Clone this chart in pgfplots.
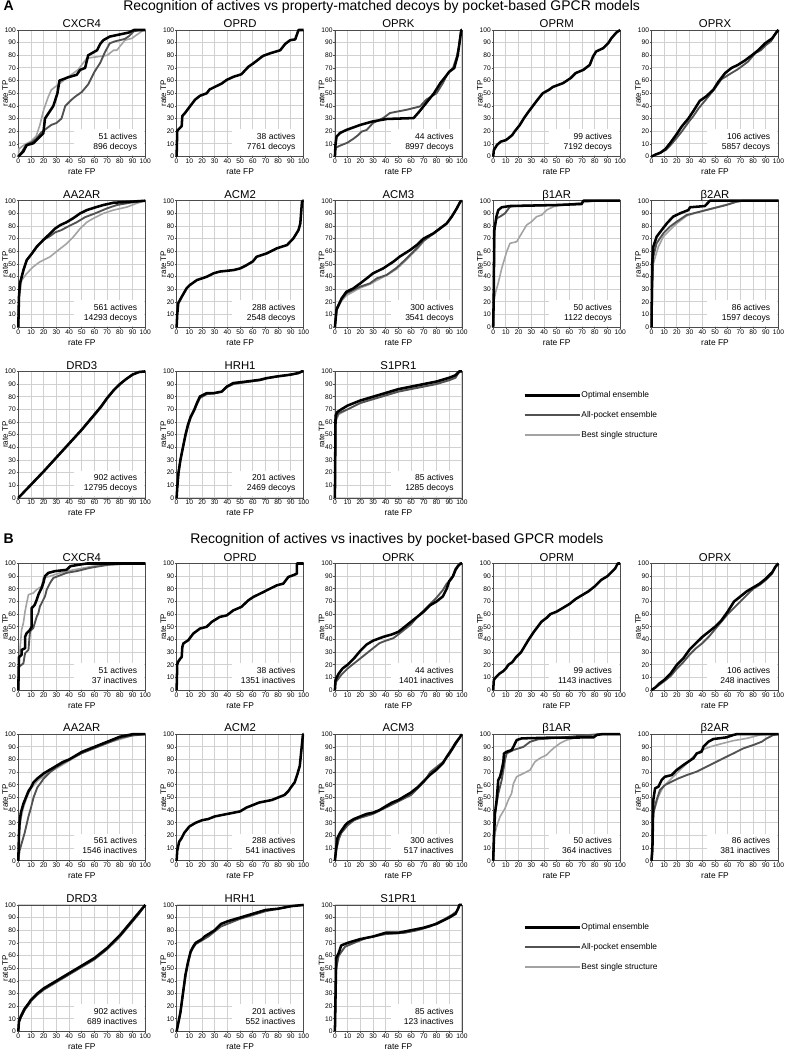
\documentclass[border=0pt]{standalone}
\usepackage{fontspec}
\setmainfont{Liberation Sans}
\usepackage{pgfplots}
\pgfplotsset{compat=1.18}
\pgfplotsset{
  bk/.style={black, line width=1.9pt, line join=round},
  dg/.style={black!68, line width=1.4pt, line join=round},
  lg/.style={black!36, line width=1.2pt, line join=round},
  roc/.style={
    scale only axis, width=95.25pt, height=94.9pt,
    xmin=0,xmax=100,ymin=0,ymax=100,
    xtick={0,10,...,100}, ytick={0,10,...,100},
    grid=major, major grid style={draw=black!18, line width=0.7pt},
    axis line style={draw=black!70, line width=0.6pt},
    tick align=outside, tick pos=left, major tick length=1.2pt,
    every tick/.style={draw=black!70, line width=0.5pt},
    /pgf/number format/assume math mode=true,
    tick label style={font=\fontsize{5}{5}\selectfont, inner sep=0.4pt},
    xlabel={rate FP}, ylabel={rate TP},
    xlabel style={font=\fontsize{6.3}{7}\selectfont, at={(axis description cs:0.5,0)}, anchor=base, yshift=-13.5pt, inner sep=0pt},
    ylabel style={font=\fontsize{6}{7}\selectfont, at={([xshift=-7.9pt]axis description cs:0,0.5)}, anchor=base, inner sep=0pt},
    every axis title shift=0pt,
    title style={font=\fontsize{8.5}{9}\selectfont, at={(axis description cs:0.5,1)}, anchor=base, yshift=1.7pt, inner sep=0pt},
    clip=false, anchor=north west,
  },
  leg/.style={
    legend style={draw=none, fill=none, at={(axis description cs:1.481,#1)}, anchor=north west, yshift=21.75pt,
      font=\fontsize{6.3}{7}\selectfont, row sep=7.5pt, inner sep=0pt,
      nodes={inner sep=0.5pt, text height=5pt, text depth=1.5pt}},
    legend cell align=left,
    legend image code/.code={\draw[##1] (0pt,0pt) -- (41.25pt,0pt);},
  },
}
\newcommand{\ann}[2]{%
  \fill[white] (axis cs:44,1.2) rectangle (axis cs:99.2,21.5);
  \node[anchor=base east,inner sep=0pt,font=\fontsize{6.4}{7}\selectfont] at (axis cs:93.7,13.4) {#1};
  \node[anchor=base east,inner sep=0pt,font=\fontsize{6.4}{7}\selectfont] at (axis cs:93.7,5.5) {#2};}
\begin{document}
\begin{tikzpicture}
\useasboundingbox (0,0) rectangle (589.5pt,-787.5pt);
% ---------------- Section A ----------------
\node[anchor=base west, font=\bfseries\fontsize{10.5}{11}\selectfont, inner sep=0pt] at (2.5pt,-7.9pt) {A};
\node[anchor=base west, font=\fontsize{10.5}{11}\selectfont, inner sep=0pt] at (92.25pt,-7.9pt) {Recognition of actives vs property-matched decoys by pocket-based GPCR models};

\begin{axis}[roc, at={(13.73pt,-22.5pt)}, title={CXCR4}]
\addplot[lg] coordinates {(0,0)(0.5,6)(3,8)(6,10)(10,12)(14,16)(17,25)(20,37)(23.7,47.5)(26,52.7)(29,55)(33,58)(38,62)(47,68.5)(54,77.7)(63,79)(70,80)(75,84)(77.6,84)(84,92)(89.5,93.4)(93,96)(98.7,100)(100,100)};
\addplot[dg] coordinates {(0,0)(3,4)(6,9)(10,11)(14,14)(18,19)(22,22)(26,25)(30,26.5)(34,30)(37,40)(42,45)(45,47.5)(50,51)(55,57)(60,67)(64.5,74)(68,82)(72,89.5)(76,91)(84,93)(87,95)(91,99)(96,100)(100,100)};
\addplot[bk] coordinates {(0,0)(4,4)(6.6,9)(11.8,10.5)(15.8,14.5)(19.7,18.4)(21,30)(27.6,40)(30.8,50)(32.4,60)(39.5,62.7)(46,64.6)(48.7,68.5)(52.6,70)(55,80)(62,84)(64.5,89)(67,92)(72,94.8)(87,98)(91,100)(100,100)};
\ann{51 actives}{896 decoys}
\end{axis}

\begin{axis}[roc, at={(132.45pt,-22.5pt)}, title={OPRD}]
\addplot[bk] coordinates {(0,0)(0.5,20)(1,21)(2.6,22.6)(4,24)(4.5,32)(6.6,34.4)(10.5,39.6)(14.5,44.9)(18.4,48)(23.7,50)(26,53)(35.5,57.7)(39.5,60.6)(44.7,63)(51,65)(56.6,71)(60.5,73.7)(68,79.5)(73.7,81.6)(81.6,84)(85.5,89)(89.5,92)(93.4,92.6)(96,100)(100,100)};
\ann{38 actives}{7761 decoys}
\end{axis}

\begin{axis}[roc, at={(251.18pt,-22.5pt)}, title={OPRK}]
\addplot[dg] coordinates {(0,0)(0.5,7)(5,9)(10,11)(14.5,14)(18.4,17)(21,19.7)(25,21)(30,26.5)(38,30.4)(43.4,34.4)(56.6,37)(67,39.6)(72,45)(80,50)(85,58)(89,66)(93,70)(96,79)(97.6,87)(99,97)(99.5,100)(100,100)};
\addplot[bk] coordinates {(0,0)(0.5,10)(1.3,15.7)(4,18.6)(9,21)(20,25)(30,27.8)(41,29.7)(50,30)(62,30.4)(66,35)(70,40)(78,50)(83,58)(87,63)(90,67)(94,70)(96.7,80)(98,89)(99.5,100)(100,100)};
\ann{44 actives}{8997 decoys}
\end{axis}

\begin{axis}[roc, at={(369.9pt,-22.5pt)}, title={OPRM}]
\addplot[bk] coordinates {(0,0)(0.5,5)(3,9.2)(6,11.8)(10,13)(12,14.5)(15,17)(17,20)(21,25)(24,30)(28,35.7)(35,45)(39,50)(44,52.8)(47,55)(55,58)(61,62)(65,66)(71,68.5)(76,72.4)(78.6,79)(81,83)(86.5,85.6)(90.5,89.5)(93,93.4)(97,98)(100,100)};
\ann{99 actives}{7192 decoys}
\end{axis}

\begin{axis}[roc, at={(488.63pt,-22.5pt)}, title={OPRX}]
\addplot[dg] coordinates {(0,0)(3,1.5)(7,3)(11,5)(15,9)(20,15)(24,20)(29,27)(33,32)(37,38)(42,44)(46,49)(50,54)(55,61)(63,66)(68,69)(76,75)(81.6,81.6)(86,84)(90,88)(94,91)(97,96)(100,100)};
\addplot[bk] coordinates {(0,0)(3,1.5)(7,3)(11,6)(15,11)(20,18)(24,24)(29,30)(33,36)(38,44)(43,47.5)(48.7,52.8)(52.6,59)(58,66)(63,70)(68,72.4)(73.7,76)(79,80)(84,84)(89.5,89.5)(95,93.4)(98.7,98.7)(100,100)};
\ann{106 actives}{5857 decoys}
\end{axis}

\begin{axis}[roc, at={(13.73pt,-150.53pt)}, title={AA2AR}]
\addplot[lg] coordinates {(0,0)(0.8,24)(2.6,37)(6.6,42.5)(11.8,47.8)(17,51.7)(25,55.7)(31.6,61)(38,66)(43.4,71.5)(48.7,78)(54,83)(59,86)(67,90)(75,92.6)(85.5,95)(93.4,98)(100,100)};
\addplot[dg] coordinates {(0,0)(0.5,24)(1.3,34.6)(4,45)(6.6,53)(10.5,58)(14.5,63.6)(19.7,69)(25,72)(29,75)(34,76.8)(38,79)(46,83)(52.6,87)(60.5,90)(70,94)(77.6,96.6)(88,98.4)(100,100)};
\addplot[bk] coordinates {(0,0)(0.5,24)(1.3,34.6)(4,45)(6.6,53)(10.5,58)(14.5,63.6)(19.7,69)(25,74)(29,78)(33,80.7)(38,83)(43,86)(48.7,90)(54,92.6)(60.5,94.7)(67,96.6)(75,98.4)(85.5,99)(100,100)};
\ann{561 actives}{14293 decoys}
\end{axis}

\begin{axis}[roc, at={(132.45pt,-150.53pt)}, title={ACM2}]
\addplot[bk] coordinates {(0,0)(0.5,10)(1.3,19)(4,24)(8,31)(10.5,33.4)(16,37.3)(24,40)(29,42.6)(34,44)(45,45.2)(50,46.5)(55,49)(60,52)(63,55.7)(71,58.4)(79,62.4)(87,65)(92,70.3)(96,76.8)(97.4,82)(98.7,99)(99.5,100)(100,100)};
\ann{288 actives}{2548 decoys}
\end{axis}

\begin{axis}[roc, at={(251.18pt,-150.53pt)}, title={ACM3}]
\addplot[lg] coordinates {(0,0)(1.3,13)(5.3,21)(9,25)(19.7,31)(27.6,34)(32.9,37)(40.7,41)(48.6,46)(55,52)(60,57)(65,62)(70,68)(77.6,74)(83,78)(88,82.5)(92,87.4)(96,94)(98.7,99.2)(100,100)};
\addplot[dg] coordinates {(0,0)(1.3,15)(5.3,22)(9,26.7)(19.7,32)(27.6,34.7)(32.9,38.6)(40.7,41.3)(48.6,47)(55,53)(60,58)(65,63)(70,68.5)(77.6,74)(83,78)(88,82)(92,87.4)(96,94)(98.7,99.2)(100,100)};
\addplot[bk] coordinates {(0,0)(1.3,14)(5.3,22.8)(9,28)(14.5,30.7)(20,34.7)(25,38.6)(30,42.6)(38,46.5)(46,51.8)(51.3,56)(59.2,61)(64.5,65)(69.7,70)(77.6,74.2)(82.9,78.2)(88,82)(92,87.4)(96,94)(98.7,99.2)(100,100)};
\ann{300 actives}{3541 decoys}
\end{axis}

\begin{axis}[roc, at={(369.9pt,-150.53pt)}, title={β1AR}]
\addplot[lg] coordinates {(0,0)(0.5,20)(2,28)(4,35)(6.7,46.5)(10.6,59.7)(13.2,66.3)(18.5,67.6)(22.4,74.2)(26.3,80.8)(30.2,83.4)(34.2,87.4)(38.2,88.7)(42,92.6)(47.4,95.3)(55,96.6)(65.7,98)(76,99.2)(81.5,100)(100,100)};
\addplot[dg] coordinates {(0,0)(0.5,40)(1,70)(1.4,80)(2.7,86)(5.3,87.4)(9.3,90)(13.2,95.3)(20,96)(50,96.6)(69.6,97.4)(71,100)(100,100)};
\addplot[bk] coordinates {(0,0)(0.5,30)(0.8,76.8)(1.4,80)(2.5,87.4)(4,92.6)(6.7,94.8)(13,95.8)(50,96.6)(69.6,97.4)(71,100)(100,100)};
\ann{50 actives}{1122 decoys}
\end{axis}

\begin{axis}[roc, at={(488.63pt,-150.53pt)}, title={β2AR}]
\addplot[lg] coordinates {(0,0)(0.7,30)(1.4,50.4)(5.4,63.6)(9.3,71.5)(14.5,76.8)(19.8,82)(27.6,88)(38,91.3)(51,94.8)(64,98.4)(72,100)(100,100)};
\addplot[dg] coordinates {(0,0)(0.7,35)(1.4,55.7)(4,66.3)(9.3,74.2)(14.5,79.5)(19.8,83.4)(27.6,88.7)(38,91.3)(48.6,94)(59,96.6)(67,99.2)(72,100)(100,100)};
\addplot[bk] coordinates {(0,0)(0.5,50)(1.4,63.6)(4,71.5)(8,76.8)(12,82)(17,87.4)(22.4,90)(29,92.6)(30.3,94.8)(42,95.8)(46,100)(100,100)};
\ann{86 actives}{1597 decoys}
\end{axis}

\begin{axis}[roc, at={(13.73pt,-278.55pt)}, title={DRD3}]
\addplot[lg] coordinates {(0,0)(10,10)(20,20.5)(30,31.5)(40,42.5)(50,53.5)(60,65)(65,71)(70,78)(75,84.5)(80,89.5)(85,94)(90,97.5)(95,99.5)(100,100)};
\addplot[dg] coordinates {(0,0)(10,10.5)(20,21)(30,32)(40,43)(50,54)(60,66)(65,72)(70,79)(75,85)(80,90)(85,94)(90,97.5)(95,99.5)(100,100)};
\addplot[bk] coordinates {(0,0)(10,10.5)(20,21)(30,32)(40,43)(50,54)(60,66)(65,72)(70,79)(75,85)(80,90)(85,94)(90,97.5)(95,99.5)(100,100)};
\ann{902 actives}{12795 decoys}
\end{axis}

\begin{axis}[roc, at={(132.45pt,-278.55pt)}, title={HRH1}]
\addplot[dg] coordinates {(0,0)(0.5,8)(1.5,20)(3,30)(5,40)(7,49)(9,57)(11,63)(14,69)(16,74)(18.4,79)(23.7,82)(29,82.5)(35.5,84)(39.5,87.5)(44.7,90)(55,91.5)(65.8,93)(71,94.5)(79,96)(89.5,97.4)(96,98.7)(98.7,100)(100,100)};
\addplot[bk] coordinates {(0,0)(0.5,8)(1.5,20)(3,30)(5,40)(7,50)(9,58)(11,64)(14,70)(16,75)(18.4,80.2)(23.7,82.8)(29,82.8)(35.5,84)(39.5,88)(44.7,90.8)(55,92)(65.8,93.4)(71,94.7)(79,96)(89.5,97.4)(96,98.7)(98.7,100)(100,100)};
\ann{201 actives}{2469 decoys}
\end{axis}

\begin{axis}[roc, leg=0.6237, at={(251.18pt,-278.55pt)}, title={S1PR1}]
\addlegendimage{bk}\addlegendentry{Optimal ensemble}
\addlegendimage{dg}\addlegendentry{All-pocket ensemble}
\addlegendimage{lg}\addlegendentry{Best single structure}
\addplot[lg] coordinates {(0,0)(0.5,60)(3,66)(10,70)(20,75)(30,79)(40,82)(50,85)(60,87)(70,89)(80,91)(90,94)(95,96)(98,100)(100,100)};
\addplot[dg] coordinates {(0,0)(0.5,62)(3,67)(10,70)(20,75)(30,78)(40,81)(50,84)(60,86)(70,88)(80,90)(90,93)(95,95)(98,100)(100,100)};
\addplot[bk] coordinates {(0,0)(0.5,65)(2,68)(5,70)(10,73)(20,77)(30,80)(40,83)(50,86)(60,88)(70,90)(80,92)(90,95)(95,97)(98,100)(100,100)};
\ann{85 actives}{1285 decoys}
\end{axis}

% ---------------- Section B ----------------
\node[anchor=base west, font=\bfseries\fontsize{10.5}{11}\selectfont, inner sep=0pt] at (2.5pt,-407.3pt) {B};
\node[anchor=base west, font=\fontsize{10.5}{11}\selectfont, inner sep=0pt] at (142.5pt,-407.3pt) {Recognition of actives vs inactives by pocket-based GPCR models};

\begin{axis}[roc, at={(13.73pt,-422.63pt)}, title={CXCR4}]
\addplot[lg] coordinates {(0,0)(0.5,18.5)(1.3,31.7)(2.6,47.6)(4,53)(5.3,62)(6.6,68.8)(8,75.4)(11.8,76.7)(14.5,79.4)(18.4,82)(19.7,88.6)(25,90)(33,92.6)(43.4,95)(59,97.9)(77.6,99.2)(90.8,100)(100,100)};
\addplot[dg] coordinates {(0,0)(0.5,18.5)(4,21)(5.3,29)(8,31.7)(9.2,46.3)(11.8,49)(14.5,58)(15.8,60.8)(17,66)(18.4,68.8)(21,74)(22.4,79.4)(25,84.6)(27.6,88.6)(38,92.6)(46,94)(56.6,96.6)(72,99.2)(85.5,100)(100,100)};
\addplot[bk] coordinates {(0,0)(0.5,26)(2.6,27.8)(2.6,31.7)(5.3,33)(5.3,42)(6.6,45)(9.2,47.6)(10.5,50)(10.5,64.8)(11.8,66)(13,67.5)(14.5,71.4)(15.8,75.4)(17,78)(18.4,80.7)(19.7,84.6)(21,90)(23.7,92.6)(29,94)(38,95)(41,97.9)(48.7,99.2)(54,100)(100,100)};
\ann{51 actives}{37 inactives}
\end{axis}

\begin{axis}[roc, at={(132.45pt,-422.63pt)}, title={OPRD}]
\addplot[bk] coordinates {(0,0)(0.5,20)(1,22)(3,25)(4,26)(4.5,34)(5.3,36.8)(9.2,39.4)(13.2,44.7)(18.4,48.6)(23.7,50)(27.6,53.8)(34,57.8)(39.5,59)(44.7,63)(51,65.7)(56.6,71)(60.5,73.6)(68.4,77.5)(73.7,80.2)(79,82.8)(84,84.1)(88,89.4)(92,90.8)(94.7,92)(94.7,100)(100,100)};
\ann{38 actives}{1351 inactives}
\end{axis}

\begin{axis}[roc, at={(251.18pt,-422.63pt)}, title={OPRK}]
\addplot[dg] coordinates {(0,0)(0.5,6)(5,12)(10,17)(15,21)(20,25)(25,29)(30,33)(35,37)(40,39)(46,41)(50,44)(55,48)(60,52)(65,58)(70,63)(75,68)(80,73)(85,79)(88,84)(92,88)(95,96)(98,100)(100,100)};
\addplot[bk] coordinates {(0,0)(0.5,8)(3,13)(6,17)(10,20)(15,25)(20,31)(25,36)(30,39)(38,42)(45,44)(50,46)(55,50)(60,54)(65,58)(70,62)(75,67)(80,70)(85,74)(88,80)(90,86)(93,90)(95,95)(97,98)(99,100)(100,100)};
\ann{44 actives}{1401 inactives}
\end{axis}

\begin{axis}[roc, at={(369.9pt,-422.63pt)}, title={OPRM}]
\addplot[bk] coordinates {(0,0)(0.5,8)(2,10)(5,13)(8,15)(10,17)(12,20)(15,22)(18,26)(22,30)(25,35)(28,40)(32,46)(35,50)(38,54)(42,57)(45,60)(50,62)(55,65)(60,68)(65,72)(70,75)(75,78)(80,82)(85,87)(90,90)(93,93)(96,96)(98,100)(100,100)};
\ann{99 actives}{1143 inactives}
\end{axis}

\begin{axis}[roc, at={(488.63pt,-422.63pt)}, title={OPRX}]
\addplot[dg] coordinates {(0,0)(3,2)(6,4)(10,7)(15,11)(20,17)(25,22)(30,28)(35,33)(40,37)(45,42)(50,48)(55,54)(60,60)(65,65)(70,70)(75,75)(80,80)(85,83)(90,87)(95,92)(97,97)(100,100)};
\addplot[bk] coordinates {(0,0)(3,2)(6,5)(10,8)(15,13)(20,20)(25,25)(30,32)(35,37)(40,42)(45,46)(50,50)(55,55)(60,62)(65,70)(70,74)(75,78)(80,81)(85,84)(90,88)(95,93)(98,98)(100,100)};
\ann{106 actives}{248 inactives}
\end{axis}

\begin{axis}[roc, at={(13.73pt,-550.65pt)}, title={AA2AR}]
\addplot[lg] coordinates {(0,0)(0.5,20)(2,33)(4,42)(6,48)(8,53)(10,57)(15,63)(20,67)(30,73)(40,79)(50,85)(60,89)(70,93)(80,96)(90,99)(100,100)};
\addplot[dg] coordinates {(0,0)(1,8)(3,15)(5,22)(8,35)(10,42)(12,50)(15,58)(18,62)(20,65)(25,70)(30,74)(35,77)(40,80)(50,85)(60,89)(70,93)(80,97)(90,99)(100,100)};
\addplot[bk] coordinates {(0,0)(0.5,20)(1,30)(2,38)(4,45)(6,50)(8,55)(10,58)(12,62)(15,65)(20,69)(25,72)(30,75)(35,78)(40,80)(45,83)(50,86)(55,88)(60,90)(65,92)(70,94)(75,96)(80,98)(85,99)(90,100)(100,100)};
\ann{561 actives}{1546 inactives}
\end{axis}

\begin{axis}[roc, at={(132.45pt,-550.65pt)}, title={ACM2}]
\addplot[bk] coordinates {(0,0)(0.5,8)(2,15)(4,18)(6,22)(10,27)(15,30)(20,32)(25,33)(30,35)(40,37)(50,39)(55,42)(60,44)(65,46)(70,47)(75,48)(80,50)(85,52)(88,55)(90,58)(93,62)(95,68)(97,75)(98,85)(99,95)(99.5,100)(100,100)};
\ann{288 actives}{541 inactives}
\end{axis}

\begin{axis}[roc, at={(251.18pt,-550.65pt)}, title={ACM3}]
\addplot[lg] coordinates {(0,0)(1,9)(3,17)(5,22)(10,28)(15,32)(20,34)(30,37)(40,42)(50,47)(60,53)(65,57)(70,62)(75,68)(80,73)(85,78)(90,85)(95,92)(98,97)(100,100)};
\addplot[dg] coordinates {(0,0)(1,8)(3,17)(5,22)(10,28)(15,32)(20,34)(30,37)(40,42)(50,47)(60,52)(65,57)(70,62)(75,70)(80,74)(85,78)(90,84)(95,92)(98,97)(100,100)};
\addplot[bk] coordinates {(0,0)(1,10)(2,18)(4,22)(6,25)(8,28)(10,30)(15,33)(20,35)(25,37)(30,38)(35,40)(40,43)(45,46)(50,48)(55,51)(60,54)(65,58)(70,63)(75,68)(80,72)(85,77)(88,82)(92,88)(95,93)(98,97)(100,100)};
\ann{300 actives}{517 inactives}
\end{axis}

\begin{axis}[roc, at={(369.9pt,-550.65pt)}, title={β1AR}]
\addplot[lg] coordinates {(0,0)(0.5,10)(1,20)(2.7,27)(5.4,34.8)(9.3,41.4)(11.9,48)(14.5,53.3)(15.9,61)(18.5,66.4)(23.8,69)(29,71.7)(32.9,78.3)(36.8,81)(42,83.6)(47.4,88.9)(52.6,92.8)(57.8,95.4)(68.4,98)(76,99.4)(84,100)(100,100)};
\addplot[dg] coordinates {(0,0)(0.5,20)(1.4,37)(4,53)(6.7,63.8)(9.3,79.6)(10.6,84.8)(15.9,87.5)(23.8,90)(29,94)(35.5,96)(55,97.5)(76,99.4)(84,100)(100,100)};
\addplot[bk] coordinates {(0,0)(0.5,16)(1.4,37.4)(2.7,48)(4,63.8)(5.4,66.4)(6.7,71.7)(8,78.3)(8.5,84.8)(10.6,86.1)(14.5,87.5)(15.9,90)(18.5,95.4)(22.4,96.7)(42,97.2)(79,97.5)(81.5,99.4)(85.4,100)(100,100)};
\ann{50 actives}{364 inactives}
\end{axis}

\begin{axis}[roc, at={(488.63pt,-550.65pt)}, title={β2AR}]
\addplot[lg] coordinates {(0,0)(0.7,20)(1.4,37.4)(5.4,50.6)(9.3,58.5)(14.5,63.8)(19.8,69)(26.4,75.6)(33,82.3)(39.5,87.5)(46,90)(54,92.2)(64.4,94.9)(75,96.7)(85.4,99.4)(90.7,100)(100,100)};
\addplot[dg] coordinates {(0,0)(0.7,20)(1.4,37.4)(4,48)(6.7,56)(10.6,59.8)(15.9,62.5)(21,65)(27.7,67.7)(35.6,70.4)(40.8,73)(48.7,77)(56.6,81)(64.4,84.8)(72.3,88.8)(80,91.4)(86.7,94)(90.7,96.7)(96,99.4)(100,100)};
\addplot[bk] coordinates {(0,0)(0.7,8.5)(1.4,48)(2.8,57.2)(5.4,58.5)(8,63.8)(10.6,66.4)(15.9,67.7)(19.8,71.7)(25,75.6)(29,78.3)(33,81)(35.6,84.8)(39.5,86.2)(40.8,90)(44.7,94)(48.7,96.2)(59,97.5)(64.4,99.4)(67,100)(100,100)};
\ann{86 actives}{381 inactives}
\end{axis}

\begin{axis}[roc, at={(13.73pt,-678.68pt)}, title={DRD3}]
\addplot[lg] coordinates {(0,0)(0.5,7)(2,11)(5,17)(8,21)(10,24)(15,29)(20,33)(25,36)(30,39)(35,42)(40,45)(45,48)(50,51)(55,54)(60,57)(65,61)(70,65)(75,70)(80,75)(85,81)(90,87)(95,93)(100,100)};
\addplot[dg] coordinates {(0,0)(0.5,7)(2,11)(5,17)(8,21)(10,24)(15,29)(20,33)(25,36)(30,39)(35,42)(40,45)(45,48)(50,51)(55,54)(60,57)(65,61)(70,65)(75,70)(80,75)(85,81)(90,87)(95,93)(100,100)};
\addplot[bk] coordinates {(0,0)(0.5,8)(2,12)(5,18)(8,22)(10,25)(15,30)(20,34)(25,37)(30,40)(35,43)(40,46)(45,49)(50,52)(55,55)(60,58)(65,62)(70,66)(75,71)(80,76)(85,82)(90,88)(95,94)(100,100)};
\ann{902 actives}{689 inactives}
\end{axis}

\begin{axis}[roc, at={(132.45pt,-678.68pt)}, title={HRH1}]
\addplot[dg] coordinates {(0,0)(1,5)(3,15)(5,30)(7,44)(9,54)(11,62)(13,66)(15,69)(20,72)(25,75)(30,79)(35,83)(40,85)(50,89)(60,92)(70,95)(80,97)(90,99)(100,100)};
\addplot[bk] coordinates {(0,0)(1,5)(3,15)(5,30)(7,45)(9,55)(11,63)(13,67)(15,70)(20,73)(22,75)(30,80)(35,85)(40,87)(50,90)(60,93)(70,96)(80,97)(90,99)(100,100)};
\ann{201 actives}{552 inactives}
\end{axis}

\begin{axis}[roc, leg=0.6356, at={(251.18pt,-678.68pt)}, title={S1PR1}]
\addlegendimage{bk}\addlegendentry{Optimal ensemble}
\addlegendimage{dg}\addlegendentry{All-pocket ensemble}
\addlegendimage{lg}\addlegendentry{Best single structure}
\addplot[lg] coordinates {(0,0)(1,50)(3,60)(8,67)(15,70)(25,74)(40,77)(55,78)(65,80)(75,83)(85,88)(92,92)(96,95)(98,100)(100,100)};
\addplot[dg] coordinates {(0,0)(1,50)(3,60)(8,67)(15,70)(25,74)(40,77)(55,78)(65,80)(75,83)(85,88)(92,92)(96,95)(98,100)(100,100)};
\addplot[bk] coordinates {(0,0)(1,58)(3,62)(5,68)(10,70)(20,73)(30,75)(40,78)(50,78)(60,80)(70,82)(80,85)(90,90)(95,93)(97,97)(98,100)(100,100)};
\ann{85 actives}{123 inactives}
\end{axis}
\end{tikzpicture}
\end{document}
